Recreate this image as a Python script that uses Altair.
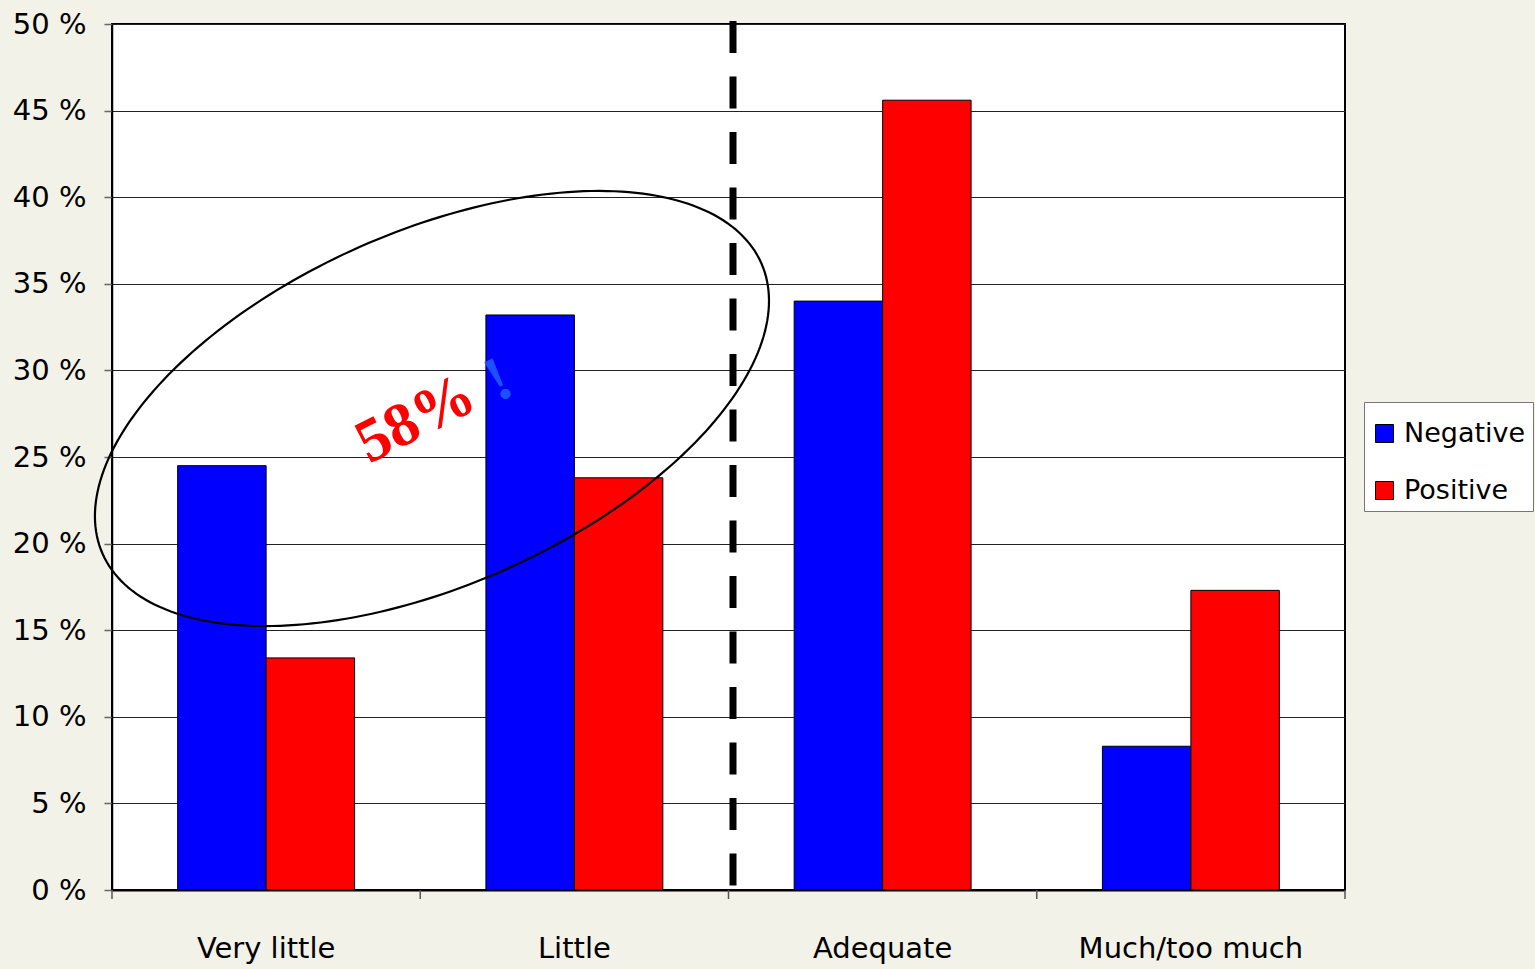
import math
import altair as alt
import pandas as pd

# ---- data ----
categories = ["Very little", "Little", "Adequate", "Much/too much"]
series = ["Negative", "Positive"]
negative = [24.5, 33.2, 34.0, 8.3]
positive = [13.4, 23.8, 45.6, 17.3]
series_colors = ["#0000ff", "#ff0000"]
y_ticks = [0, 5, 10, 15, 20, 25, 30, 35, 40, 45, 50]
slot_edges = [0, 1, 2, 3, 4]

# annotation parameters (data units: x in category slots 0..4, y in %)
divider_x = [2.0]
ellipse_center = (1.038, 27.8)
ellipse_axes_px = (360, 177)
ellipse_tilt_deg = 23.8
note_text = ["58%"]
note_pos = [(0.985, 27.2)]
bang_text = ["!"]
bang_pos = [(1.255, 29.4)]

W, H = 1233, 866
FONT = "Comic Sans MS, DejaVu Sans"

rows = []
for c, n, p in zip(categories, negative, positive):
    rows.append({"category": c, "series": "Negative", "value": n})
    rows.append({"category": c, "series": "Positive", "value": p})
df = pd.DataFrame(rows)

bars = alt.Chart(df).mark_bar(stroke="black", strokeWidth=1).encode(
    x=alt.X(
        "category:N",
        sort=categories,
        scale=alt.Scale(paddingInner=0.426, paddingOuter=0.213),
        axis=alt.Axis(
            title=None, labelAngle=0, ticks=False,
            domainColor="black", domainWidth=2,
            labelFont=FONT, labelFontSize=29, labelColor="black",
            labelPadding=44, labelLimit=0, grid=False,
        ),
    ),
    xOffset=alt.XOffset("series:N", sort=series,
                        scale=alt.Scale(paddingInner=0, paddingOuter=0)),
    y=alt.Y(
        "value:Q",
        scale=alt.Scale(domain=[0, 50], nice=False, zero=True),
        axis=alt.Axis(
            title=None, values=y_ticks, labelExpr="datum.value + ' %'",
            tickSize=8, tickColor="#666666", tickWidth=1.5,
            domainColor="black", domainWidth=1.5,
            labelFont=FONT, labelFontSize=29, labelColor="black", labelPadding=18,
            grid=True, gridColor="#222222", gridWidth=1,
        ),
    ),
    color=alt.Color(
        "series:N", sort=series,
        scale=alt.Scale(domain=series, range=series_colors),
        legend=alt.Legend(
            title=" ", titleFontSize=9, titlePadding=2,
            orient="none", legendX=1252, legendY=378,
            symbolType="square", symbolSize=324, symbolStrokeColor="black",
            symbolStrokeWidth=1, labelFont=FONT, labelFontSize=27, labelColor="black",
            labelOffset=6, labelLimit=0, fillColor="white", strokeColor="#777777",
            padding=7, rowPadding=29,
        ),
    ),
)

xq = alt.Scale(domain=[0, 4], nice=False, zero=False)

rule_df = pd.DataFrame({"x": divider_x, "top": [50], "bottom": [0]})
divider = alt.Chart(rule_df).mark_rule(
    color="black", strokeWidth=7, strokeDash=[32, 23.5], xOffset=4.5, yOffset=-3, y2Offset=-3
).encode(
    x=alt.X("x:Q", scale=xq, axis=None),
    y=alt.Y("top:Q", axis=None),
    y2="bottom:Q",
)

# category-boundary ticks below the x axis
tick_df = pd.DataFrame({"x": slot_edges, "y": [0] * len(slot_edges)})
xticks = alt.Chart(tick_df).mark_rule(
    color="#555555", strokeWidth=1.5, y2Offset=9
).encode(
    x=alt.X("x:Q", scale=xq, axis=None),
    y=alt.Y("y:Q", axis=None),
    y2="y:Q",
)

# ellipse outline around the two left groups
cx, cy = ellipse_center
a, b = ellipse_axes_px
th = math.radians(ellipse_tilt_deg)
px_x = W / 4.0
px_y = H / 50.0
ell = []
N = 240
for i in range(N + 1):
    t = 2 * math.pi * i / N
    dx = a * math.cos(t) * math.cos(th) + b * math.sin(t) * math.sin(th)
    dy = -a * math.cos(t) * math.sin(th) + b * math.sin(t) * math.cos(th)
    ell.append({"x": cx + dx / px_x, "y": cy - dy / px_y, "o": i})
ell_df = pd.DataFrame(ell)
ellipse = alt.Chart(ell_df).mark_line(color="black", strokeWidth=2.2).encode(
    x=alt.X("x:Q", scale=xq, axis=None),
    y=alt.Y("y:Q", axis=None),
    order="o:Q",
)

note_df = pd.DataFrame({"t": note_text, "x": [p[0] for p in note_pos], "y": [p[1] for p in note_pos]})
note = alt.Chart(note_df).mark_text(
    font="Liberation Serif", fontWeight="bold", fontSize=62, color="#ff0000",
    angle=333, align="center", baseline="middle",
).encode(
    x=alt.X("x:Q", scale=xq, axis=None),
    y=alt.Y("y:Q", axis=None),
    text="t:N",
)

bang_df = pd.DataFrame({"t": bang_text, "x": [p[0] for p in bang_pos], "y": [p[1] for p in bang_pos]})
bang = alt.Chart(bang_df).mark_text(
    font="Liberation Serif", fontWeight="bold", fontSize=64, color="#1e50ff",
    angle=333, align="center", baseline="middle",
).encode(
    x=alt.X("x:Q", scale=xq, axis=None),
    y=alt.Y("y:Q", axis=None),
    text="t:N",
)

annot = alt.layer(xticks, divider, ellipse, note, bang)

chart = alt.layer(bars, annot).resolve_scale(x="independent").resolve_axis(
    x="independent", y="independent"
).properties(
    width=W, height=H,
    autosize=alt.AutoSizeParams(type="none"),
    padding={"left": 112, "top": 24, "right": 190, "bottom": 79},
    background="#f3f2e8",
).configure_view(
    fill="white", stroke="black", strokeWidth=2,
)

chart.save("out.html", embed_options={"renderer": "svg", "actions": False})
